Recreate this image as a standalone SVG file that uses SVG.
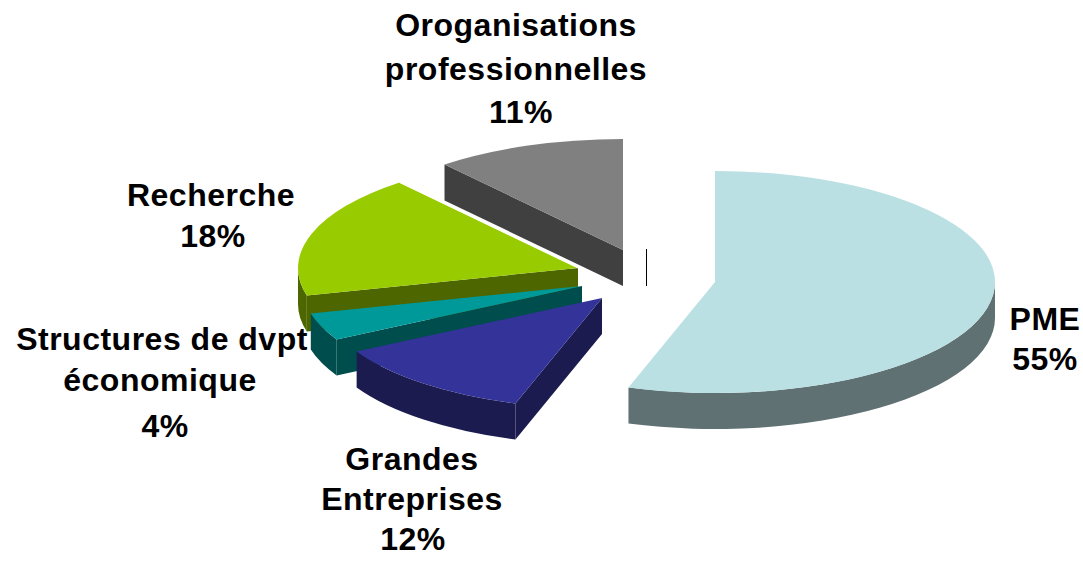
<svg xmlns="http://www.w3.org/2000/svg" width="1083" height="561" viewBox="0 0 1083 561">
<style>
.lbl{font-family:"Liberation Sans",Arial,sans-serif;font-weight:bold;font-size:32px;letter-spacing:0.5px;fill:#000;text-anchor:middle}
</style>
<rect width="1083" height="561" fill="#fff"/>
<g id="slice-organisations">
<path d="M623,250 L444.52,164.47 L444.52,200.47 L623,286 Z" fill="#404040"/>
<path d="M623,250 L444.52,164.47 A280,111 0 0 1 623,139 Z" fill="#808080"/>
</g>
<g id="slice-recherche">
<path d="M306.8,295.6 A280,111 0 0 1 298,268 L298,304 A280,111 0 0 0 306.8,331.6 Z" fill="#4D6600"/>
<path d="M578,268 L306.8,295.6 L306.8,331.6 L578,304 Z" fill="#4D6600"/>
<path d="M578,268 L306.8,295.6 A280,111 0 0 1 399.52,182.47 Z" fill="#99CC00"/>
<path d="M399.52,182.47 L578,268" stroke="#fff" stroke-width="1" fill="none"/>
</g>
<g id="slice-structures">
<path d="M336.63,339.47 A280,111 0 0 1 310.8,313.6 L310.8,349.6 A280,111 0 0 0 336.63,375.47 Z" fill="#004D4D"/>
<path d="M582,286 L336.63,339.47 L336.63,375.47 L582,322 Z" fill="#004D4D"/>
<path d="M582,286 L336.63,339.47 A280,111 0 0 1 310.8,313.6 Z" fill="#009999"/>
</g>
<g id="slice-grandes">
<path d="M515.47,403.57 A280,111 0 0 1 356.63,351.47 L356.63,387.47 A280,111 0 0 0 515.47,439.57 Z" fill="#1B1B4F"/>
<path d="M602,298 L515.47,403.57 L515.47,439.57 L602,334 Z" fill="#1B1B4F"/>
<path d="M602,298 L515.47,403.57 A280,111 0 0 1 356.63,351.47 Z" fill="#333399"/>
</g>
<g id="slice-pme">
<path d="M995,282 A280,111 0 0 1 628.47,387.57 L628.47,423.57 A280,111 0 0 0 995,318 Z" fill="#5F7173"/>
<path d="M715,282 L715,171 A280,111 0 1 1 628.47,387.57 Z" fill="#BAE0E3"/>
</g>
<g id="connectors">
<line x1="646.5" y1="249" x2="646.5" y2="286" stroke="#000" stroke-width="1"/>
</g>
<g id="label-organisations">
<text class="lbl" x="516" y="36">Oroganisations</text>
<text class="lbl" x="516" y="80">professionnelles</text>
<text class="lbl" x="521" y="123">11%</text>
</g>
<g id="label-recherche">
<text class="lbl" x="211" y="206">Recherche</text>
<text class="lbl" x="213" y="247">18%</text>
</g>
<g id="label-structures">
<text class="lbl" x="162" y="350">Structures de dvpt</text>
<text class="lbl" x="160" y="391">économique</text>
<text class="lbl" x="165" y="437">4%</text>
</g>
<g id="label-grandes">
<text class="lbl" x="412" y="470">Grandes</text>
<text class="lbl" x="412" y="510">Entreprises</text>
<text class="lbl" x="413" y="550">12%</text>
</g>
<g id="label-pme">
<text class="lbl" x="1045" y="330">PME</text>
<text class="lbl" x="1045" y="370">55%</text>
</g>
</svg>
